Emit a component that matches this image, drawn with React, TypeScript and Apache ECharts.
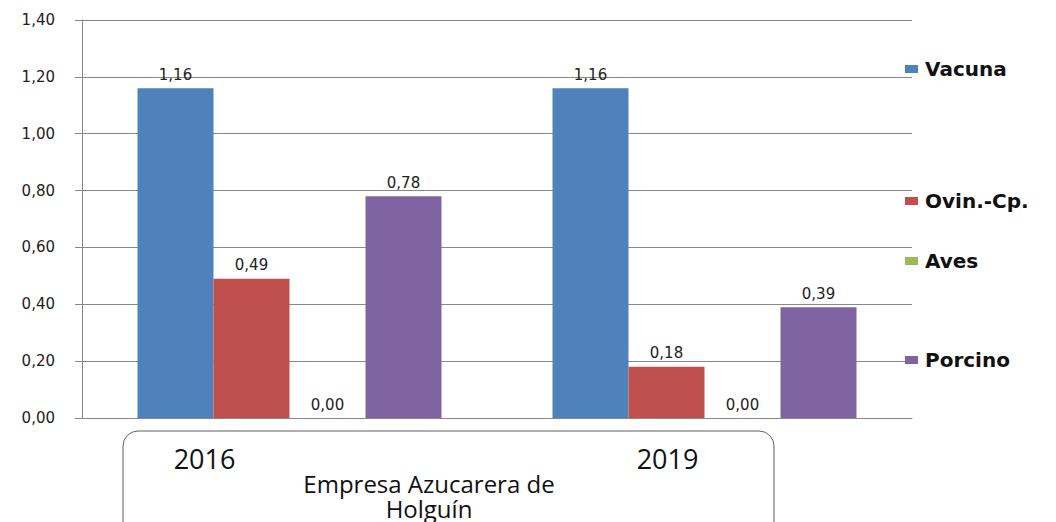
import React, { useEffect, useRef } from "react";
import * as echarts from "echarts";

const categories = ["2016", "2019"];
const seriesNames = ["Vacuna", "Ovin.-Cp.", "Aves", "Porcino"];
const vacuna = [1.16, 1.16];
const ovinCp = [0.49, 0.18];
const aves = [0.0, 0.0];
const porcino = [0.78, 0.39];
const yTicks = { min: 0, max: 1.4, interval: 0.2 };
const groupTitle = "Empresa Azucarera de\nHolguín";

const colors = ["#4F81BD", "#C0504D", "#9BBB59", "#8064A2"];
const legendCenters = [69, 201, 261, 360];

const fmt = (v: number) => v.toFixed(2).replace(".", ",");

export default function App() {
  const ref = useRef<HTMLDivElement>(null);
  useEffect(() => {
    if (!ref.current) return;
    const chart = echarts.init(ref.current, undefined, { renderer: "svg" });
    const values = [vacuna, ovinCp, aves, porcino];
    const option: any = {
      animation: false,
      backgroundColor: "#ffffff",
      grid: { left: 82, right: 144, top: 20, bottom: 104, containLabel: false },
      legend: seriesNames.map((name, i) => ({
        data: [name],
        left: 905,
        top: legendCenters[i] - 12,
        padding: 0,
        itemWidth: 13,
        itemHeight: 8,
        icon: "rect",
        selectedMode: false,
        textStyle: {
          fontFamily: "DejaVu Sans",
          fontWeight: "bold",
          fontSize: 20,
          color: "#111",
          lineHeight: 24,
          padding: [0, 0, 0, 2],
        },
      })),
      xAxis: {
        type: "category",
        data: categories,
        boundaryGap: true,
        axisLine: { show: true, lineStyle: { color: "#888888", width: 1 } },
        axisTick: { show: false },
        axisLabel: {
          margin: 29,
          formatter: (v: string) => `{${v === categories[0] ? "a" : "b"}|${v}}`,
          rich: {
            a: { fontFamily: "Open Sans", fontSize: 27, lineHeight: 22, color: "#111", padding: [0, 170, 0, 0] },
            b: { fontFamily: "Open Sans", fontSize: 27, lineHeight: 22, color: "#111", padding: [0, 74, 0, 0] },
          },
        },
      },
      yAxis: {
        type: "value",
        min: yTicks.min,
        max: yTicks.max,
        interval: yTicks.interval,
        axisLine: { show: true, lineStyle: { color: "#888888", width: 1 } },
        axisTick: { show: true, length: 7, lineStyle: { color: "#888888" } },
        splitLine: { show: true, lineStyle: { color: "#888888", width: 1 } },
        axisLabel: {
          formatter: (v: number) => fmt(v),
          margin: 27,
          fontFamily: "DejaVu Sans",
          fontSize: 15,
          color: "#222",
        },
      },
      series: seriesNames.map((name, i) => ({
        name,
        type: "bar",
        data: values[i],
        barWidth: 76,
        barGap: "0%",
        itemStyle: { color: colors[i] },
        label: {
          show: true,
          position: "top",
          distance: 6,
          formatter: (p: any) => fmt(p.value),
          fontFamily: "DejaVu Sans",
          fontSize: 15,
          color: "#222",
        },
      })),
      graphic: [
        {
          type: "rect",
          shape: { x: 123, y: 431, width: 651, height: 130, r: 15 },
          style: { fill: "none", stroke: "#5e5e5e", lineWidth: 1 },
          silent: true,
        },
        {
          type: "text",
          x: 429,
          y: 471,
          style: {
            text: groupTitle,
            fontFamily: "Open Sans",
            fontSize: 24,
            lineHeight: 25,
            fill: "#111",
            align: "center",
            verticalAlign: "top",
          },
        },
      ],
    };
    chart.setOption(option);
    return () => chart.dispose();
  }, []);
  return (
    <div
      ref={ref}
      style={{ position: "fixed", left: 0, top: 0, width: 1056, height: 522 }}
    />
  );
}
